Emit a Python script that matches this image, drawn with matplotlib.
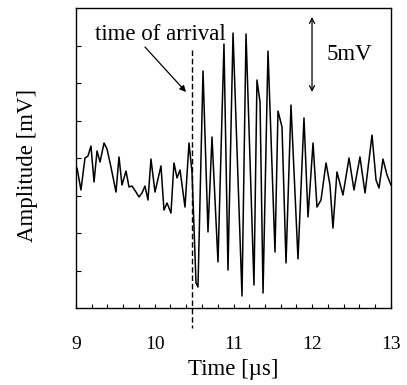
import matplotlib
matplotlib.use("Agg")
import matplotlib.pyplot as plt
import numpy as np

plt.rcParams['font.family'] = ['Liberation Serif', 'DejaVu Serif']

# Signal vertices: time [µs], amplitude [mV]
time_us = [9.000, 9.013, 9.063, 9.114, 9.152, 9.190, 9.229, 9.267, 9.305, 9.356,
           9.394, 9.444, 9.508, 9.546, 9.584, 9.635, 9.673, 9.711, 9.762, 9.800,
           9.838, 9.876, 9.914, 9.952, 10.003, 10.079, 10.117, 10.156, 10.206, 10.244,
           10.283, 10.321, 10.384, 10.435, 10.473, 10.524, 10.549, 10.613, 10.676, 10.727,
           10.803, 10.879, 10.930, 10.994, 11.108, 11.159, 11.260, 11.298, 11.337, 11.375,
           11.438, 11.527, 11.565, 11.616, 11.667, 11.730, 11.819, 11.895, 11.946, 12.010,
           12.060, 12.111, 12.175, 12.225, 12.263, 12.314, 12.390, 12.467, 12.530, 12.606,
           12.670, 12.759, 12.810, 12.848, 12.898, 12.949, 13.000]
amplitude_mv = [-0.93, -0.67, -2.13, 0.00, 0.13, 0.80, -1.60, 0.47, -0.27, 1.00,
                0.60, -0.60, -2.27, 0.07, -1.80, -0.87, -1.93, -1.87, -2.27, -2.60,
                -2.33, -1.87, -2.80, -0.07, -2.27, -0.53, -3.47, -3.00, -3.67, -0.33,
                -1.33, -0.80, -3.27, 1.00, -0.93, -8.33, -8.60, 5.80, -4.93, 1.40,
                -6.93, 7.60, -7.47, 8.33, -9.20, 8.27, -8.47, 5.20, 3.73, -9.00,
                7.13, -6.27, 3.13, 2.07, -7.00, 3.53, -6.73, 2.67, -3.93, 1.00,
                -3.27, -2.80, -0.33, -1.80, -4.67, -0.93, -2.47, 0.00, -2.13, 0.07,
                -2.33, 1.53, -1.47, -2.00, -0.07, -1.13, -1.80]

arrival_time = 10.47
xtick_values = [9, 10, 11, 12, 13]
xtick_labels = ['9', '10', '11', '12', '13']

fig = plt.figure(figsize=(4.07, 3.85), dpi=100)
ax = fig.add_axes([76/407, 1-308/385, 315/407, 300/385])

ax.plot(time_us, amplitude_mv, color='black', lw=1.1)
ax.set_xlim(9, 13)
ax.set_ylim(-10, 10)

ax.set_xticks(xtick_values)
ax.set_xticklabels(xtick_labels)
ax.set_xticks(np.arange(9, 13.01, 0.2), minor=True)
ax.set_yticks(np.arange(-7.5, 7.6, 2.5))
ax.set_yticklabels([])
ax.tick_params(axis='x', which='both', direction='in', length=3, width=0.8,
               labelsize=14, pad=20)
ax.tick_params(axis='y', which='both', direction='in', length=3.5, width=0.8)
for s in ax.spines.values():
    s.set_linewidth(1.0)

# Dashed arrival line extending below axes
ax.plot([arrival_time, arrival_time], [7.2, -11.3], color='black', lw=1.0,
        ls=(0, (4, 2)), clip_on=False)

ax.text(9.24, 7.87, 'time of arrival', fontsize=16.5, ha='left', va='baseline')
ax.annotate('', xy=(10.397, 4.4), xytext=(9.876, 7.4),
            arrowprops=dict(arrowstyle='-|>', color='black', lw=0.9,
                            mutation_scale=9, shrinkA=0, shrinkB=0))
ax.annotate('', xy=(11.997, 4.4), xytext=(11.997, 9.4),
            arrowprops=dict(arrowstyle='<->', color='black', lw=0.9,
                            mutation_scale=9, shrinkA=0, shrinkB=0))
ax.text(12.187, 6.87, '5mV', fontsize=16.5, ha='left', va='center')

fig.text(233/407, 1-370/385, 'Time [µs]', fontsize=16.5, ha='center', va='center')
fig.text(28/407, 1-165/385, 'Amplitude [mV]', fontsize=16.5, ha='center',
         va='center', rotation=90)

fig.savefig('out.png', dpi=100)
